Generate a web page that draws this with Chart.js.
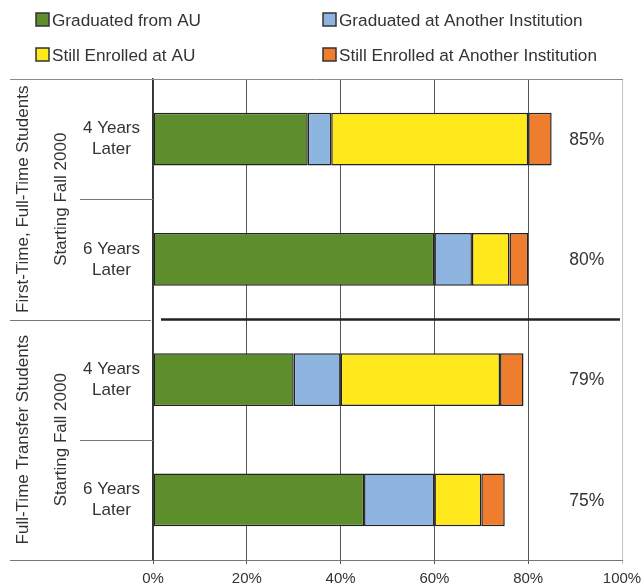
<!DOCTYPE html>
<html><head><meta charset="utf-8">
<script src="https://cdn.jsdelivr.net/npm/chart.js@4/dist/chart.umd.min.js"></script>
<style>html,body{margin:0;padding:0;background:#fff}#wrap{width:641px;height:588px;position:relative}</style>
</head><body><div id="wrap"><canvas id="c" width="641" height="588"></canvas></div>
<script>
const categories = [['4 Years','Later'],['6 Years','Later'],['4 Years','Later'],['6 Years','Later']];
const groupLabels = [['First-Time, Full-Time Students','Starting Fall 2000'],['Full-Time Transfer Students','Starting Fall 2000']];
const seriesNames = ['Graduated from AU','Graduated at Another Institution','Still Enrolled at AU','Still Enrolled at Another Institution'];
const gradAU = [33, 60, 30, 45];
const gradOther = [5, 8, 10, 15];
const enrolledAU = [42, 8, 34, 10];
const enrolledOther = [5, 4, 5, 5];
const totalLabels = ['85%', '80%', '79%', '75%'];
const xTickValues = [0, 20, 40, 60, 80, 100];

const colors = ['#5E8E2C', '#8EB4E0', '#FFE81C', '#EE7D2E'];
const FONT = '"Liberation Sans", Arial, sans-serif';
const TXT = '#333';

const seriesData = [gradAU, gradOther, enrolledAU, enrolledOther];

const extras = {
  id: 'extras',
  afterDraw(chart) {
    const ctx = chart.ctx;
    const xs = chart.scales.x, ys = chart.scales.y;
    const top = chart.chartArea.top, bottom = chart.chartArea.bottom;
    const left = xs.left, right = xs.getPixelForValue(100);
    ctx.save();
    // top frame line
    ctx.strokeStyle = '#8a8a8a'; ctx.lineWidth = 1;
    ctx.beginPath(); ctx.moveTo(10, Math.round(top) + 0.5); ctx.lineTo(right + 1, Math.round(top) + 0.5); ctx.stroke();
    // bottom extension
    ctx.strokeStyle = '#777';
    ctx.beginPath(); ctx.moveTo(10, Math.round(bottom) + 0.5); ctx.lineTo(left, Math.round(bottom) + 0.5); ctx.stroke();
    // group separator
    const mid = (ys.getPixelForValue(1) + ys.getPixelForValue(2)) / 2;
    ctx.beginPath(); ctx.moveTo(10, Math.round(mid) + 0.5); ctx.lineTo(left - 2, Math.round(mid) + 0.5); ctx.stroke();
    ctx.strokeStyle = '#222'; ctx.lineWidth = 2.5;
    ctx.beginPath(); ctx.moveTo(left + 8, mid); ctx.lineTo(right - 2, mid); ctx.stroke();
    // sub separators
    ctx.strokeStyle = '#777'; ctx.lineWidth = 1;
    [[0,1],[2,3]].forEach(([a,b]) => {
      const yy = Math.round((ys.getPixelForValue(a) + ys.getPixelForValue(b)) / 2) + 0.5;
      ctx.beginPath(); ctx.moveTo(80, yy); ctx.lineTo(left, yy); ctx.stroke();
    });
    // group labels (rotated)
    ctx.fillStyle = TXT;
    ctx.textAlign = 'center'; ctx.textBaseline = 'middle';
    ctx.font = '17px ' + FONT;
    groupLabels.forEach((g, gi) => {
      const cy = (ys.getPixelForValue(gi * 2) + ys.getPixelForValue(gi * 2 + 1)) / 2;
      [[23, g[0]], [61, g[1]]].forEach(([cx, t]) => {
        ctx.save(); ctx.translate(cx, cy); ctx.rotate(-Math.PI / 2);
        ctx.fillText(t, 0, 0); ctx.restore();
      });
    });
    // totals
    ctx.font = '17.5px ' + FONT;
    totalLabels.forEach((t, i) => {
      ctx.fillText(t, xs.getPixelForValue(92.5), ys.getPixelForValue(i) + 1);
    });
    // legend
    const legPos = [[36, 20], [323, 20], [36, 55], [323, 55]];
    ctx.font = '17.2px ' + FONT; ctx.textAlign = 'left';
    seriesNames.forEach((n, i) => {
      const [bx, by] = legPos[i];
      ctx.fillStyle = colors[i];
      ctx.fillRect(bx, by - 7, 13, 13);
      ctx.strokeStyle = '#333'; ctx.lineWidth = 1.5;
      ctx.strokeRect(bx, by - 7, 13, 13);
      ctx.fillStyle = TXT;
      ctx.fillText(n, bx + 16, by + 1);
    });
    ctx.restore();
  }
};

new Chart(document.getElementById('c'), {
  type: 'bar',
  data: {
    labels: categories,
    datasets: seriesNames.map((n, i) => ({
      label: n,
      data: seriesData[i],
      backgroundColor: colors[i],
      borderColor: '#222',
      borderWidth: 1.5,
      borderSkipped: false,
      barPercentage: 0.44,
      categoryPercentage: 1
    }))
  },
  options: {
    indexAxis: 'y',
    responsive: false,
    animation: false,
    devicePixelRatio: 1,
    layout: { padding: { top: 79, right: 19, left: 0, bottom: 0 } },
    plugins: { legend: { display: false }, tooltip: { enabled: false } },
    scales: {
      x: {
        type: 'linear', stacked: true, min: 0, max: 100,
        afterBuildTicks: s => { s.ticks = xTickValues.map(v => ({ value: v })); },
        afterFit: s => { s.height = 28; s.paddingLeft = 0; s.paddingRight = 0; s.paddingTop = 0; s.paddingBottom = 0; },
        ticks: { callback: v => v + '%', color: TXT, font: { family: FONT, size: 15 }, padding: 6, maxRotation: 0 },
        grid: {
          color: c => (c.tick && c.tick.value === 100) ? '#c4c4c4' : '#555',
          lineWidth: 1, tickLength: 4, drawTicks: true
        },
        border: { display: true, color: '#777', width: 1 }
      },
      y: {
        type: 'category', stacked: true,
        afterFit: s => { s.width = 153; s.paddingTop = 0; s.paddingBottom = 0; s.paddingLeft = 0; s.paddingRight = 0; },
        ticks: { crossAlign: 'center', padding: 5, color: TXT, font: { family: FONT, size: 17, lineHeight: 1.24 } },
        grid: { display: false },
        border: { display: true, color: '#333', width: 1.5 }
      }
    }
  },
  plugins: [extras]
});
</script></body></html>
